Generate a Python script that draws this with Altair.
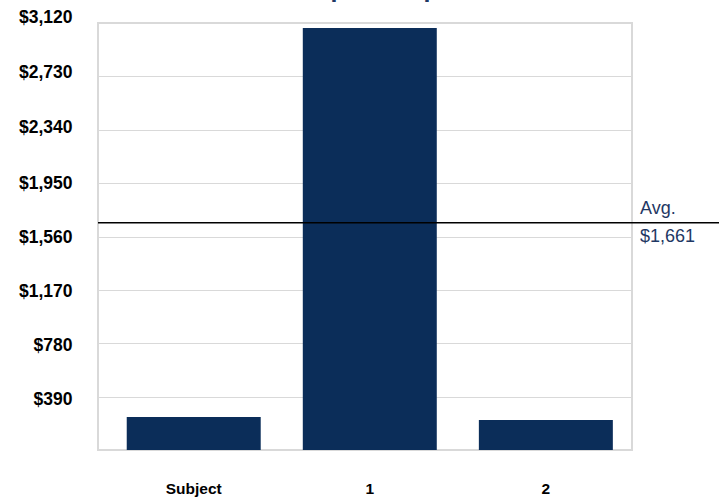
import altair as alt
import pandas as pd

# Chart values
categories = ["Subject", "1", "2"]
values = [241, 3083, 219]
average = 1661
y_ticks = [390, 780, 1170, 1560, 1950, 2340, 2730, 3120]
title_text = "Expenses per Unit"

NAVY = "#0B2D59"
TEXT_NAVY = "#1F3864"
GRID = "#D9D9D9"
FONT = "Liberation Sans"

bars_df = pd.DataFrame({"category": categories, "value": values})
avg_df = pd.DataFrame({"avg": [average],
                       "avg_label": [f"${average:,.0f}"],
                       "name": ["Avg."]})
title_df = pd.DataFrame({"title": [title_text]})

x_enc = alt.X(
    "category:N",
    sort=categories,
    scale=alt.Scale(paddingInner=0.239, paddingOuter=0.136, align=0.6),
    axis=alt.Axis(
        title=None, labelAngle=0, domain=False, ticks=False,
        labelFont=FONT, labelFontSize=15.5, labelFontWeight="bold",
        labelColor="#000000", labelPadding=43, labelBaseline="alphabetic",
        grid=False,
    ),
)

y_scale = alt.Scale(domain=[0, 3120], nice=False, zero=True)

bars = alt.Chart(bars_df).mark_bar(color=NAVY).encode(
    x=x_enc,
    y=alt.Y(
        "value:Q",
        scale=y_scale,
        axis=alt.Axis(
            title=None, values=y_ticks, format="$,.0f",
            domain=False, ticks=False,
            labelFont=FONT, labelFontSize=17.5, labelFontWeight="bold",
            labelColor="#000000", labelPadding=26,
            labelOffset=alt.ExprRef(
                expr="datum.value > 1950 ? -(datum.value - 1950) * 0.0051"
                     " : -(datum.value - 1950) * 0.0019"
            ),
            gridColor=GRID, gridWidth=1,
        ),
    ),
)

avg_rule = alt.Chart(avg_df).mark_rule(
    color="#000000", strokeWidth=1.4, clip=False
).encode(
    y=alt.Y("avg:Q", scale=y_scale),
    x=alt.value(0),
    x2=alt.value(621),
)

avg_name = alt.Chart(avg_df).mark_text(
    align="left", baseline="alphabetic", dy=-9, fontSize=18,
    font=FONT, color=TEXT_NAVY, clip=False
).encode(
    y=alt.Y("avg:Q", scale=y_scale),
    x=alt.value(542),
    text="name:N",
)

avg_value = alt.Chart(avg_df).mark_text(
    align="left", baseline="alphabetic", dy=19, fontSize=18,
    font=FONT, color=TEXT_NAVY, clip=False
).encode(
    y=alt.Y("avg:Q", scale=y_scale),
    x=alt.value(542),
    text="avg_label:N",
)

title = alt.Chart(title_df).mark_text(
    align="center", baseline="alphabetic", fontSize=25, fontWeight="bold",
    font=FONT, color=TEXT_NAVY, clip=False
).encode(
    x=alt.value(311),
    y=alt.value(-26.5),
    text="title:N",
)

chart = alt.layer(bars, avg_rule, avg_name, avg_value, title).properties(
    width=534,
    height=427,
    autosize=alt.AutoSizeParams(type="none"),
    padding={"left": 98, "top": 23, "right": 87, "bottom": 47},
    background="#FFFFFF",
).configure_view(
    stroke=GRID, strokeWidth=2,
)

chart.save("out.html", embed_options={"renderer": "svg", "actions": False})
